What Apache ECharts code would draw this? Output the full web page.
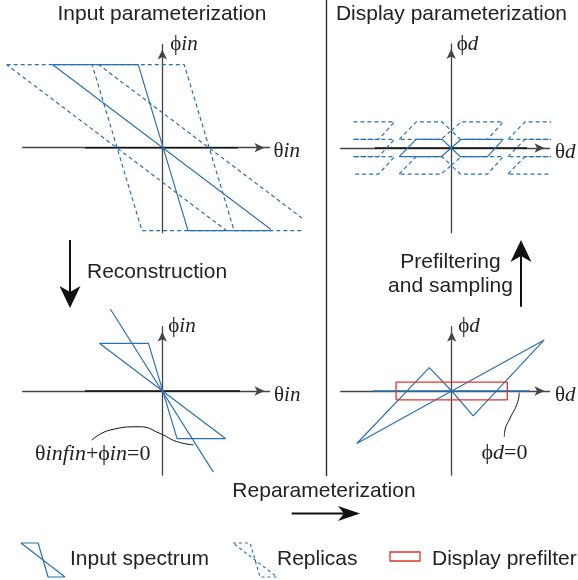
<!DOCTYPE html>
<html><head><meta charset="utf-8">
<script src="https://cdn.jsdelivr.net/npm/echarts@6/dist/echarts.min.js"></script>
<style>html,body{margin:0;padding:0;background:#fff}#c{width:578px;height:580px}</style>
</head><body><div id="c"></div>
<script>
// ---------------- data (frequency-plane units) ----------------
// input spectrum bow-tie: T1 -> T2 -> (through origin) B1 -> B2 -> (through origin) T1
const inputSpectrum = [[-1.32, 1], [-0.29, 1], [0.31, -1], [1.33, -1], [-1.32, 1]];
// replicas of the input spectrum (shift along theta_in)
const inputReplicaShifts = [-0.555, 0.555];
// line theta_in f_in + phi_in = 0
const reconstructionLine = [[-1.09, 1.72], [1.07, -1.70]];
// reparameterized (display) spectrum
const displaySpectrum = [[-1.99, -1.10], [-0.47, 0.49], [0, 0], [0.45, -0.52], [1.94, 1.07], [0, 0], [-1.99, -1.10]];
// display prefilter box
const prefilterBox = [[-1.166, -0.184], [1.166, -0.184], [1.166, 0.184], [-1.166, 0.184], [-1.166, -0.184]];
// phi_d = 0 line
const phiZeroLine = [[-1.65, 0], [1.64, 0]];
// band-limited spectrum after prefiltering
const bandlimitedSpectrum = [[-1.09, -0.182], [-0.734, 0.182], [-0.189, 0.182], [0, 0], [0.21, 0.182], [1.09, 0.182],
  [0.76, -0.182], [0.189, -0.182], [0, 0], [-0.21, -0.182], [-1.09, -0.182]];
// sampling replicas in display parameterization
const displayReplicaShifts = [[0, 0.364], [0, -0.364], [-2.28, 0], [2.28, 0], [-2.28, 0.364], [2.28, 0.364], [-2.28, -0.364], [2.28, -0.364]];
// dark overlay segments on horizontal axes
const inputAxisSegmentTop = [[-0.93, 0], [0.91, 0]];
const inputAxisSegmentBottom = [[-1.62, 0], [1.63, 0]];
const displayAxisSegmentTop = [[-1.6, 0], [1.59, 0]];
// annotation leader curves
const leaderInput = [[-1.48, -1.03], [-1.10, -0.82], [-0.47, -0.75], [-0.05, -0.89], [0.30, -1.06], [0.65, -1.13]];
const leaderDisplay = [[1.417, -0.036], [1.375, -0.258], [1.222, -0.572], [1.117, -0.818], [1.103, -0.958]];

// ---------------- styles / layout ----------------
const BLUE = '#2a71b0';
const AXIS = '#444444';
const TXT = '#222222';
const SANS = '"Liberation Sans", Arial, sans-serif';
const SERIF = '"Liberation Serif", "DejaVu Serif", serif';

const option = { animation: false, backgroundColor: '#ffffff', grid: [], xAxis: [], yAxis: [], series: [], graphic: [] };

const richMath = {
  g: { fontFamily: SERIF, fontSize: 21, color: TXT },
  i: { fontFamily: SERIF, fontStyle: 'italic', fontSize: 21, color: TXT }
};
const richEq = {
  g: { fontFamily: SERIF, fontSize: 22, color: TXT },
  i: { fontFamily: SERIF, fontStyle: 'italic', fontSize: 22, color: TXT }
};

function addGrid(r, ax) {
  const gi = option.grid.length;
  option.grid.push({ left: r.left, top: r.top, width: r.width, height: r.height, containLabel: false });
  const base = { type: 'value', gridIndex: gi, axisTick: { show: false }, axisLabel: { show: false }, splitLine: { show: false } };
  const line = { show: true, onZero: true, lineStyle: { color: AXIS, width: 1.3 }, symbol: ['none', 'arrow'], symbolSize: [7, 10], symbolOffset: [0, -5] };
  option.xAxis.push(Object.assign({}, base, { min: r.xmin, max: r.xmax, show: !!ax,
    axisLine: ax ? line : { show: false },
    name: ax ? ax.xName : '', nameLocation: 'end', nameGap: ax ? ax.xGap : 0,
    nameTextStyle: { align: 'left', verticalAlign: 'middle', padding: [8, 0, 0, 0], rich: richMath } }));
  option.yAxis.push(Object.assign({}, base, { min: r.ymin, max: r.ymax, show: !!ax,
    axisLine: ax ? line : { show: false },
    name: ax ? ax.yName : '', nameLocation: 'end', nameGap: 0,
    nameTextStyle: { align: 'left', verticalAlign: 'middle', padding: [0, 0, 0, ax ? ax.yPad : 0], rich: richMath } }));
  return gi;
}
// panel rect from origin + scale + pixel extents
function panelRect(p, x0, x1, y0, y1) {
  return { left: x0, top: y0, width: x1 - x0, height: y1 - y0,
    xmin: (x0 - p.ox) / p.s, xmax: (x1 - p.ox) / p.s, ymin: (p.oy - y1) / p.s, ymax: (p.oy - y0) / p.s };
}
function addLine(gi, data, color, width, type, clip, smooth, z) {
  option.series.push({ type: 'line', xAxisIndex: gi, yAxisIndex: gi, data: data, symbol: 'none', showSymbol: false,
    clip: !!clip, smooth: smooth || false, silent: true, animation: false, z: z || 3,
    lineStyle: { color: color, width: width, type: type || 'solid' } });
}
function shift(data, dx, dy) { return data.map(function (p) { return [p[0] + dx, p[1] + dy]; }); }

const DASH = [4, 3];
const TL = { ox: 162.3, oy: 147.7, s: 83 };
const TR = { ox: 451.2, oy: 148, s: 47.7 };
const BL = { ox: 162.3, oy: 391, s: 47.7 };
const BR = { ox: 451.7, oy: 391, s: 47.7 };

// ---- top-left: input parameterization ----
const gTL = addGrid(panelRect(TL, 22.7, 269.5, 44.5, 232.7), { xName: '{g|θ}{i|in}', xGap: 4, yName: '{g|ϕ}{i|in}', yPad: 8 });
const gTLr = addGrid(panelRect(TL, 0, 300, 40, 240), null);
addLine(gTL, inputAxisSegmentTop, '#111', 1.5, 'solid', false, false, 2);
addLine(gTL, inputSpectrum, BLUE, 1.2);
inputReplicaShifts.forEach(function (d) { addLine(gTLr, shift(inputSpectrum, d, 0), BLUE, 1.2, DASH, true); });

// ---- top-right: display parameterization ----
const gTR = addGrid(panelRect(TR, 340.7, 549.5, 44, 232.7), { xName: '{g|θ}{i|d}', xGap: 5.5, yName: '{g|ϕ}{i|d}', yPad: 5.5 });
const gTRr = addGrid(panelRect(TR, 353.3, 549.5, 100, 200), null);
addLine(gTR, displayAxisSegmentTop, '#111', 1.5, 'solid', false, false, 2);
addLine(gTR, bandlimitedSpectrum, BLUE, 1.2);
displayReplicaShifts.forEach(function (d) { addLine(gTRr, shift(bandlimitedSpectrum, d[0], d[1]), BLUE, 1.2, DASH, true); });

// ---- bottom-left: reconstruction ----
const gBL = addGrid(panelRect(BL, 22.7, 269.5, 326.7, 475), { xName: '{g|θ}{i|in}', xGap: 4.5, yName: '{g|ϕ}{i|in}', yPad: 6 });
addLine(gBL, inputAxisSegmentBottom, '#111', 1.5, 'solid', false, false, 2);
addLine(gBL, inputSpectrum, BLUE, 1.2);
addLine(gBL, reconstructionLine, BLUE, 1.2);
addLine(gBL, leaderInput, '#111', 1, 'solid', false, 0.5);

// ---- bottom-right: reparameterized ----
const gBR = addGrid(panelRect(BR, 340.7, 549.5, 326.7, 475), { xName: '{g|θ}{i|d}', xGap: 5.5, yName: '{g|ϕ}{i|d}', yPad: 6.5 });
addLine(gBR, phiZeroLine, BLUE, 1.5, 'solid', false, false, 2);
addLine(gBR, displaySpectrum, BLUE, 1.2);
addLine(gBR, prefilterBox, '#e0342b', 1.3, 'solid', false, false, 4);
addLine(gBR, leaderDisplay, '#111', 1, 'solid', false, 0.5);

// ---- legend icons (same spectrum data, tiny grids) ----
const gL1 = addGrid({ left: 21, top: 543, width: 44, height: 34, xmin: -1.32, xmax: 1.33, ymin: -1, ymax: 1 }, null);
addLine(gL1, inputSpectrum, BLUE, 1.2);
const gL2 = addGrid({ left: 233, top: 543, width: 44, height: 34, xmin: -1.32, xmax: 1.33, ymin: -1, ymax: 1 }, null);
addLine(gL2, inputSpectrum, BLUE, 1.2, [3, 3]);

// ---------------- text & decorations ----------------
function txt(x, y, text, align, opts) {
  const st = Object.assign({ text: text, font: '21px ' + SANS, fill: TXT, align: align, textAlign: align, verticalAlign: 'middle', textVerticalAlign: 'middle' }, opts || {});
  option.graphic.push({ type: 'text', x: x, y: y, silent: true, style: st });
}
txt(162, 14, 'Input parameterization', 'center');
txt(451.5, 14, 'Display parameterization', 'center');
txt(87, 272, 'Reconstruction', 'left');
txt(450.5, 262, 'Prefiltering', 'center');
txt(450.5, 286, 'and sampling', 'center');
txt(324, 491, 'Reparameterization', 'center');
txt(35, 454, '{g|θ}{i|in}{i|f}{i|in}{g|+}{g|ϕ}{i|in}{g|=0}', 'left', { rich: richEq });
txt(481.5, 453, '{g|ϕ}{i|d}{g|=0}', 'left', { rich: richEq });
txt(70, 559, 'Input spectrum', 'left');
txt(277, 559, 'Replicas', 'left');
txt(432, 559, 'Display prefilter', 'left');

// divider
option.graphic.push({ type: 'line', silent: true, shape: { x1: 326.5, y1: 0, x2: 326.5, y2: 476 }, style: { stroke: '#222', lineWidth: 1.3 } });
// arrows
function arrow(shaft, head) {
  option.graphic.push({ type: 'line', silent: true, shape: shaft, style: { stroke: '#111', lineWidth: 2 } });
  option.graphic.push({ type: 'polygon', silent: true, shape: { points: head }, style: { fill: '#111' } });
}
arrow({ x1: 70, y1: 240, x2: 70, y2: 292 }, [[70, 308], [59.5, 286], [70, 292], [80.5, 286]]);
arrow({ x1: 521, y1: 306.7, x2: 521, y2: 256 }, [[521, 240], [510.5, 262], [521, 256], [531.5, 262]]);
arrow({ x1: 291.7, y1: 513.5, x2: 345, y2: 513.5 }, [[360, 513.5], [338, 506], [344, 513.5], [338, 521]]);
// legend prefilter icon
option.graphic.push({ type: 'rect', silent: true, shape: { x: 390, y: 552, width: 30, height: 9 }, style: { fill: 'none', stroke: '#e0342b', lineWidth: 1.3 } });

const chart = echarts.init(document.getElementById('c'), null, { renderer: 'canvas' });
chart.setOption(option);
</script>
</body></html>
